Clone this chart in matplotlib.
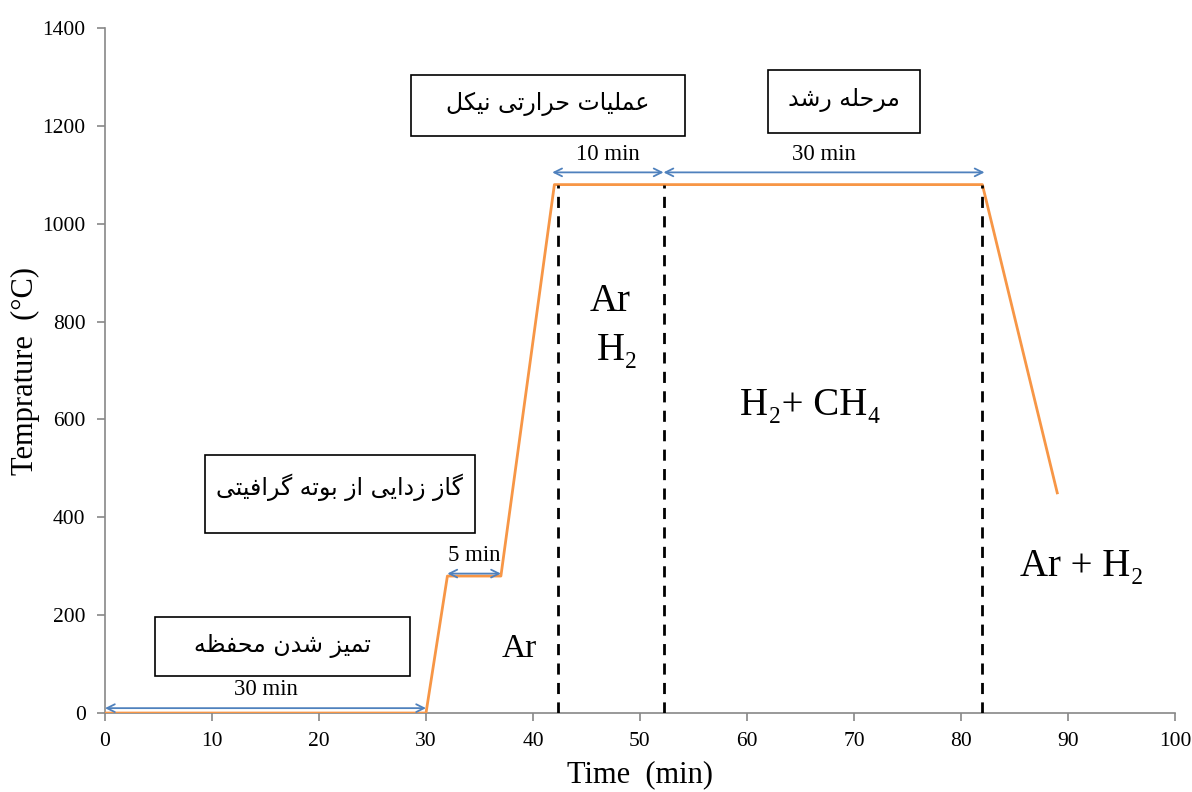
import matplotlib
matplotlib.use('Agg')
import matplotlib.pyplot as plt
from matplotlib.patches import Rectangle

plt.rcParams['font.family'] = ['Liberation Serif', 'DejaVu Sans']

# heating profile
time = [0, 30, 32, 37, 42, 82, 89]
temp = [0, 0, 280, 280, 1080, 1080, 450]

# stage boundaries (dashed lines)
stage_x = [42.3, 52.2, 82]
stage_top = 1080

# duration arrows: start, end, level, label
span_start = [0, 32, 41.8, 52.2]
span_end = [30, 37, 52.2, 82.2]
span_y = [10, 285, 1105, 1105]
span_labels = ['30 min', '5 min', '10 min', '30 min']

# minimal Persian shaping (presentation forms), matplotlib has no bidi
FORMS = {
    '\u0627': ('\uFE8D', '\uFE8E'),
    '\u0628': ('\uFE8F', '\uFE90', '\uFE91', '\uFE92'),
    '\u062A': ('\uFE95', '\uFE96', '\uFE97', '\uFE98'),
    '\u062D': ('\uFEA1', '\uFEA2', '\uFEA3', '\uFEA4'),
    '\u062F': ('\uFEA9', '\uFEAA'),
    '\u0631': ('\uFEAD', '\uFEAE'),
    '\u0632': ('\uFEAF', '\uFEB0'),
    '\u0634': ('\uFEB5', '\uFEB6', '\uFEB7', '\uFEB8'),
    '\u0638': ('\uFEC5', '\uFEC6', '\uFEC7', '\uFEC8'),
    '\u0639': ('\uFEC9', '\uFECA', '\uFECB', '\uFECC'),
    '\u0641': ('\uFED1', '\uFED2', '\uFED3', '\uFED4'),
    '\u0644': ('\uFEDD', '\uFEDE', '\uFEDF', '\uFEE0'),
    '\u0645': ('\uFEE1', '\uFEE2', '\uFEE3', '\uFEE4'),
    '\u0646': ('\uFEE5', '\uFEE6', '\uFEE7', '\uFEE8'),
    '\u0647': ('\uFEE9', '\uFEEA', '\uFEEB', '\uFEEC'),
    '\u0648': ('\uFEED', '\uFEEE'),
    '\u06CC': ('\uFBFC', '\uFBFD', '\uFBFE', '\uFBFF'),
    '\u06A9': ('\uFB8E', '\uFB8F', '\uFB90', '\uFB91'),
    '\u06AF': ('\uFB92', '\uFB93', '\uFB94', '\uFB95'),
}


def fa(s):
    s = s.replace('\u064A', '\u06CC').replace('\u0643', '\u06A9')
    out = []
    for i, ch in enumerate(s):
        f = FORMS.get(ch)
        if f is None:
            out.append(ch)
            continue
        prev = s[i - 1] if i > 0 else ''
        nxt = s[i + 1] if i + 1 < len(s) else ''
        jp = prev in FORMS and len(FORMS[prev]) == 4
        jn = len(f) == 4 and nxt in FORMS
        if jp and jn:
            out.append(f[3])
        elif jp:
            out.append(f[1])
        elif jn:
            out.append(f[2])
        else:
            out.append(f[0])
    return ''.join(reversed(out))


fig = plt.figure(figsize=(11.92, 7.92), dpi=100)
ax = fig.add_axes([0.0881, 0.0997, 0.8976, 0.8649])

ax.plot(time, temp, color='#F79646', linewidth=2.0, zorder=3)
for x in stage_x:
    ax.plot([x, x], [0, stage_top], color='black', linewidth=2.0,
            linestyle=(0, (4, 3)), zorder=4)

blue = '#4F81BD'
for x0, x1, y, lab in zip(span_start, span_end, span_y, span_labels):
    ax.annotate('', xy=(x1, y), xytext=(x0, y),
                arrowprops=dict(arrowstyle='<->', color=blue, lw=1.3,
                                shrinkA=0, shrinkB=0, mutation_scale=14),
                zorder=5)
    ax.text((x0 + x1) / 2, y + 16, lab, ha='center', va='bottom',
            fontsize=16.5)

# stage boxes
boxes = [
    (4.7, 75, 23.8, 121, 'تمیز شدن محفظه', 136),
    (9.3, 368, 25.3, 159, 'گاز زدایی از بوته گرافیتی', 462),
    (28.6, 1180, 25.6, 123, 'عملیات حرارتی نیکل', 1244),
    (62.0, 1186, 14.2, 129, 'مرحله رشد', 1252),
]
for x, y, w, h, lab, ty in boxes:
    ax.add_patch(Rectangle((x, y), w, h, facecolor='white', edgecolor='black',
                           linewidth=1.2, zorder=6, clip_on=False))
    ax.text(x + w / 2, ty, fa(lab), ha='center', va='center', fontsize=17,
            family='DejaVu Sans', zorder=7)

# gas labels
ax.text(38.7, 132, 'Ar', ha='center', va='center', fontsize=24)
ax.text(47.2, 842, 'Ar', ha='center', va='center', fontsize=28)
ax.text(47.9, 740, 'H\u2082', ha='center', va='center', fontsize=28)
ax.text(65.9, 628, 'H\u2082+ CH\u2084', ha='center', va='center', fontsize=28)
ax.text(91.3, 300, 'Ar + H\u2082', ha='center', va='center', fontsize=28)

ax.set_xlim(0, 100)
ax.set_ylim(0, 1400)
ax.set_xticks(range(0, 101, 10))
ax.set_yticks(range(0, 1401, 200))
for s in ['top', 'right']:
    ax.spines[s].set_visible(False)
for s in ['left', 'bottom']:
    ax.spines[s].set_color('#888888')
    ax.spines[s].set_linewidth(1.2)
ax.tick_params(colors='#888888', length=6, width=1.2, labelcolor='black',
               labelsize=15.5)
ax.tick_params(axis='x', pad=8)
ax.tick_params(axis='y', pad=8)
ax.set_xlabel('Time  (min)', fontsize=22, labelpad=6)
ax.set_ylabel('Temprature  (\u00b0C)', fontsize=22, labelpad=2)

fig.savefig('out.png', dpi=100)
